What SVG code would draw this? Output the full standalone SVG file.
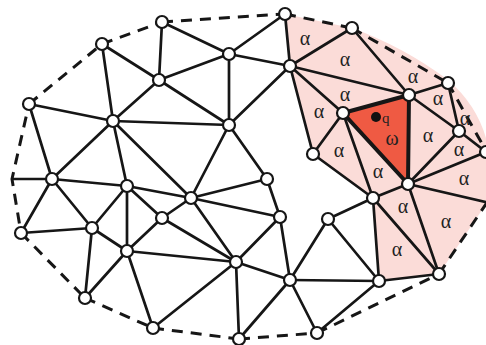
<svg xmlns="http://www.w3.org/2000/svg" width="486" height="345" viewBox="0 0 486 345">
  <defs>
    <style>
      .edge { stroke: #161616; stroke-width: 2.7; fill: none; stroke-linecap: round; }
      .thick { stroke: #161616; stroke-width: 4; fill: none; stroke-linecap: round; }
      .bound { stroke: #161616; stroke-width: 3; fill: none; stroke-dasharray: 11 8; }
      .node { fill: #ffffff; stroke: #161616; stroke-width: 2.2; }
      .lbl { font-family: "Liberation Serif", "DejaVu Serif", serif; font-size: 20px; fill: #222; text-anchor: middle; }
      .sm { font-family: "Liberation Serif", "DejaVu Serif", serif; font-size: 15px; fill: #222; }
    </style>
  </defs>

  <rect width="486" height="345" fill="#ffffff"/>

  <!-- shaded neighbourhood -->
  <g id="region">
    <path d="M285,14 L352,28 Q404,47 448,80 Q476,104 486,138 L486,204 L439,274 L379,281 L373,198 L313,154 L290,66 Z" fill="#fbdcd8"/>
    <polygon id="cell-omega" points="343,113 409,95 408,184" fill="#ef5a43"/>
  </g>

  <!-- mesh connectors -->
  <g id="connectors">
    <g class="edge">
      <line x1="162" y1="22" x2="159" y2="80"/>
      <line x1="162" y1="22" x2="229" y2="54"/>
      <line x1="102" y1="44" x2="159" y2="80"/>
      <line x1="102" y1="44" x2="113" y2="121"/>
      <line x1="159" y1="80" x2="229" y2="54"/>
      <line x1="159" y1="80" x2="113" y2="121"/>
      <line x1="159" y1="80" x2="229" y2="125"/>
      <line x1="229" y1="54" x2="229" y2="125"/>
      <line x1="229" y1="54" x2="285" y2="14"/>
      <line x1="229" y1="54" x2="290" y2="66"/>
      <line x1="229" y1="125" x2="290" y2="66"/>
      <line x1="29" y1="104" x2="113" y2="121"/>
      <line x1="113" y1="121" x2="229" y2="125"/>
      <line x1="29" y1="104" x2="52" y2="179"/>
      <line x1="113" y1="121" x2="52" y2="179"/>
      <line x1="113" y1="121" x2="127" y2="186"/>
      <line x1="113" y1="121" x2="191" y2="198"/>
      <line x1="229" y1="125" x2="191" y2="198"/>
      <line x1="229" y1="125" x2="267" y2="179"/>
      <line x1="52" y1="179" x2="12" y2="179"/>
      <line x1="52" y1="179" x2="127" y2="186"/>
      <line x1="52" y1="179" x2="21" y2="233"/>
      <line x1="52" y1="179" x2="92" y2="228"/>
      <line x1="127" y1="186" x2="92" y2="228"/>
      <line x1="127" y1="186" x2="191" y2="198"/>
      <line x1="127" y1="186" x2="162" y2="218"/>
      <line x1="127" y1="186" x2="127" y2="251"/>
      <line x1="191" y1="198" x2="162" y2="218"/>
      <line x1="191" y1="198" x2="236" y2="262"/>
      <line x1="191" y1="198" x2="267" y2="179"/>
      <line x1="191" y1="198" x2="280" y2="217"/>
      <line x1="162" y1="218" x2="127" y2="251"/>
      <line x1="162" y1="218" x2="236" y2="262"/>
      <line x1="21" y1="233" x2="92" y2="228"/>
      <line x1="92" y1="228" x2="127" y2="251"/>
      <line x1="92" y1="228" x2="85" y2="298"/>
      <line x1="127" y1="251" x2="85" y2="298"/>
      <line x1="127" y1="251" x2="153" y2="328"/>
      <line x1="127" y1="251" x2="236" y2="262"/>
      <line x1="153" y1="328" x2="236" y2="262"/>
      <line x1="236" y1="262" x2="239" y2="339"/>
      <line x1="236" y1="262" x2="280" y2="217"/>
      <line x1="236" y1="262" x2="290" y2="280"/>
      <line x1="267" y1="179" x2="280" y2="217"/>
      <line x1="280" y1="217" x2="290" y2="280"/>
      <line x1="239" y1="339" x2="290" y2="280"/>
      <line x1="290" y1="280" x2="317" y2="333"/>
      <line x1="290" y1="280" x2="328" y2="219"/>
      <line x1="290" y1="280" x2="379" y2="281"/>
      <line x1="328" y1="219" x2="379" y2="281"/>
      <line x1="328" y1="219" x2="373" y2="198"/>
      <line x1="317" y1="333" x2="379" y2="281"/>
      <line x1="379" y1="281" x2="439" y2="274"/>
      <line x1="373" y1="198" x2="379" y2="281"/>
      <line x1="373" y1="198" x2="439" y2="274"/>
      <line x1="373" y1="198" x2="408" y2="184"/>
      <line x1="408" y1="184" x2="439" y2="274"/>
      <line x1="408" y1="184" x2="459" y2="131"/>
      <line x1="408" y1="184" x2="486" y2="152"/>
      <line x1="408" y1="184" x2="490" y2="203"/>
      <line x1="285" y1="14" x2="290" y2="66"/>
      <line x1="290" y1="66" x2="352" y2="28"/>
      <line x1="290" y1="66" x2="409" y2="95"/>
      <line x1="290" y1="66" x2="343" y2="113"/>
      <line x1="290" y1="66" x2="313" y2="154"/>
      <line x1="352" y1="28" x2="409" y2="95"/>
      <line x1="409" y1="95" x2="448" y2="83"/>
      <line x1="409" y1="95" x2="459" y2="131"/>
      <line x1="448" y1="83" x2="459" y2="131"/>
      <line x1="459" y1="131" x2="486" y2="152"/>
      <line x1="343" y1="113" x2="313" y2="154"/>
      <line x1="343" y1="113" x2="373" y2="198"/>
      <line x1="313" y1="154" x2="373" y2="198"/>
    </g>
    <g class="thick">
      <polygon points="343,113 409,95 408,184"/>
    </g>
    <!-- outer boundary -->
    <g class="bound">
      <line x1="162" y1="22" x2="285" y2="14"/>
      <line x1="102" y1="44" x2="162" y2="22"/>
      <line x1="29" y1="104" x2="102" y2="44"/>
      <line x1="12" y1="179" x2="29" y2="104" stroke-dashoffset="4"/>
      <line x1="12" y1="179" x2="21" y2="233" stroke-dashoffset="4"/>
      <line x1="21" y1="233" x2="85" y2="298"/>
      <line x1="85" y1="298" x2="153" y2="328"/>
      <line x1="153" y1="328" x2="239" y2="339"/>
      <line x1="239" y1="339" x2="317" y2="333"/>
      <line x1="317" y1="333" x2="439" y2="274"/>
      <line x1="439" y1="274" x2="490" y2="198"/>
      <line x1="285" y1="14" x2="352" y2="28"/>
      <line x1="352" y1="28" x2="448" y2="83"/>
      <line x1="448" y1="83" x2="490" y2="158"/>
    </g>
  </g>

  <!-- cell labels -->
  <g id="labels">
    <text class="lbl" x="305" y="45">α</text>
    <text class="lbl" x="345" y="66">α</text>
    <text class="lbl" x="413" y="83">α</text>
    <text class="lbl" x="438" y="105">α</text>
    <text class="lbl" x="345" y="101">α</text>
    <text class="lbl" x="319" y="118">α</text>
    <text class="lbl" x="465" y="125">α</text>
    <text class="lbl" x="428" y="142">α</text>
    <text class="lbl" x="339" y="157">α</text>
    <text class="lbl" x="459" y="156">α</text>
    <text class="lbl" x="378" y="178">α</text>
    <text class="lbl" x="464" y="185">α</text>
    <text class="lbl" x="403" y="213">α</text>
    <text class="lbl" x="446" y="228">α</text>
    <text class="lbl" x="397" y="256">α</text>
    <text class="lbl" x="392" y="145">ω</text>
    <circle cx="376" cy="117" r="5" fill="#111"/>
    <text class="sm" x="382" y="123">q</text>
  </g>

  <!-- vertices -->
  <g id="nodes">
    <g id="n-a"><circle class="node" cx="162" cy="22" r="6"/></g>
    <g id="n-b"><circle class="node" cx="102" cy="44" r="6"/></g>
    <g id="n-c"><circle class="node" cx="229" cy="54" r="6"/></g>
    <g id="n-d"><circle class="node" cx="159" cy="80" r="6"/></g>
    <g id="n-e"><circle class="node" cx="29" cy="104" r="6"/></g>
    <g id="n-f"><circle class="node" cx="113" cy="121" r="6"/></g>
    <g id="n-g"><circle class="node" cx="229" cy="125" r="6"/></g>
    <g id="n-h"><circle class="node" cx="285" cy="14" r="6"/></g>
    <g id="n-i"><circle class="node" cx="352" cy="28" r="6"/></g>
    <g id="n-j"><circle class="node" cx="290" cy="66" r="6"/></g>
    <g id="n-k"><circle class="node" cx="409" cy="95" r="6"/></g>
    <g id="n-l"><circle class="node" cx="448" cy="83" r="6"/></g>
    <g id="n-m"><circle class="node" cx="343" cy="113" r="6"/></g>
    <g id="n-n"><circle class="node" cx="313" cy="154" r="6"/></g>
    <g id="n-o"><circle class="node" cx="459" cy="131" r="6"/></g>
    <g id="n-p"><circle class="node" cx="486" cy="152" r="6"/></g>
    <g id="n-q"><circle class="node" cx="408" cy="184" r="6"/></g>
    <g id="n-r"><circle class="node" cx="373" cy="198" r="6"/></g>
    <g id="n-s"><circle class="node" cx="267" cy="179" r="6"/></g>
    <g id="n-t"><circle class="node" cx="280" cy="217" r="6"/></g>
    <g id="n-u"><circle class="node" cx="328" cy="219" r="6"/></g>
    <g id="n-v"><circle class="node" cx="439" cy="274" r="6"/></g>
    <g id="n-w"><circle class="node" cx="290" cy="280" r="6"/></g>
    <g id="n-x"><circle class="node" cx="379" cy="281" r="6"/></g>
    <g id="n-y"><circle class="node" cx="317" cy="333" r="6"/></g>
    <g id="n-z"><circle class="node" cx="239" cy="339" r="6"/></g>
    <g id="n-aa"><circle class="node" cx="52" cy="179" r="6"/></g>
    <g id="n-ab"><circle class="node" cx="127" cy="186" r="6"/></g>
    <g id="n-ac"><circle class="node" cx="191" cy="198" r="6"/></g>
    <g id="n-ad"><circle class="node" cx="162" cy="218" r="6"/></g>
    <g id="n-ae"><circle class="node" cx="21" cy="233" r="6"/></g>
    <g id="n-af"><circle class="node" cx="92" cy="228" r="6"/></g>
    <g id="n-ag"><circle class="node" cx="127" cy="251" r="6"/></g>
    <g id="n-ah"><circle class="node" cx="236" cy="262" r="6"/></g>
    <g id="n-ai"><circle class="node" cx="85" cy="298" r="6"/></g>
    <g id="n-aj"><circle class="node" cx="153" cy="328" r="6"/></g>
  </g>
</svg>
